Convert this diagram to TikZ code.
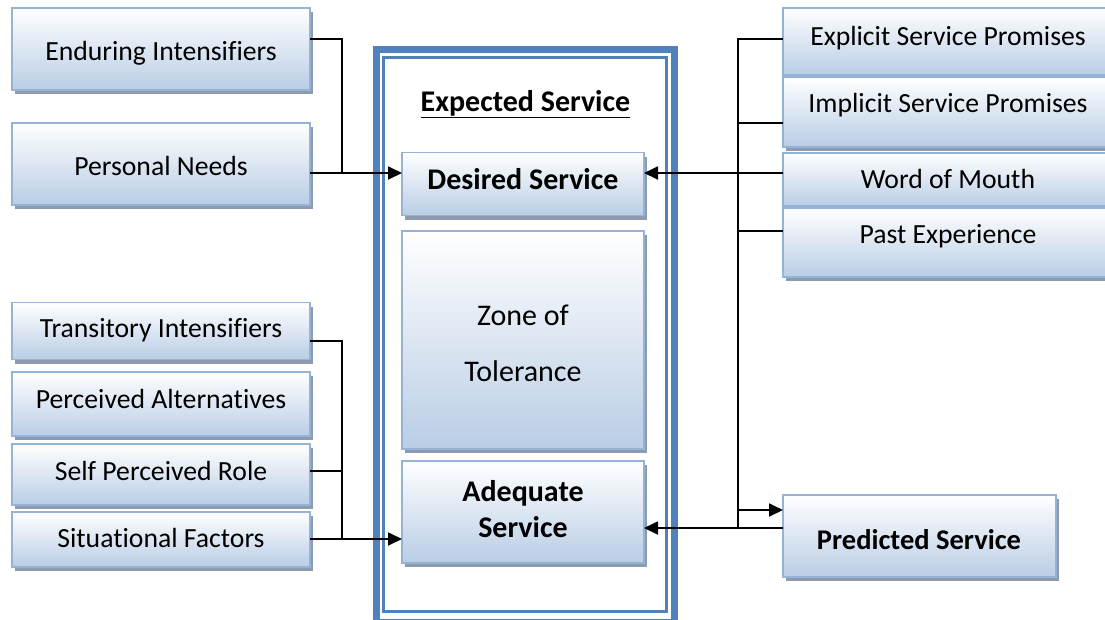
\documentclass[tikz,border=0pt]{standalone}
\usepackage{fontspec}
\setmainfont{Carlito}[RawFeature={-liga;-calt;-clig}]
\usetikzlibrary{arrows.meta,calc}
\definecolor{frameblue}{HTML}{4F81BD}
\definecolor{boxline}{HTML}{95B3D7}
\definecolor{boxbot}{HTML}{B9CDE5}
\definecolor{shadowgray}{HTML}{8E9BAE}
\tikzset{
  box/.style={draw=boxline, line width=1.5pt, top color=white, bottom color=boxbot,
    inner sep=0pt, outer sep=0pt,
    preaction={fill=shadowgray, transform canvas={shift={(3pt,-4pt)}}}},
  txt/.style={inner sep=0pt, anchor=base, font=\fontsize{27.7}{33}\selectfont},
  btxt/.style={inner sep=0pt, anchor=base, font=\fontsize{30}{36}\selectfont\bfseries},
  conn/.style={line width=1.8pt, black},
  arr/.style={conn, -{Triangle[length=14pt,width=13pt]}},
}
\begin{document}
\begin{tikzpicture}[x=1pt,y=-1pt]
\useasboundingbox (0,0) rectangle (1105,619);
\clip (0,0) rectangle (1105,619);
% central frame
\draw[frameblue, line width=7.5pt] (376.5,49.5) rectangle (674.5,623);
\draw[frameblue, line width=2.5pt] (383.5,57.5) rectangle (666.7,611.3);
\node[btxt] (exp) at (525.5,111) {\underline{Expected Service}};
% left column
\node[box, minimum width=298pt, minimum height=82pt] (ei) at (161,49) {};
\node[txt] (eit) at (161,60) {Enduring Intensifiers};
\node[box, minimum width=298pt, minimum height=82pt] (pn) at (161,164) {};
\node[txt] (pnt) at (161,175) {Personal Needs};
\node[box, minimum width=298pt, minimum height=57pt] (ti) at (161,331) {};
\node[txt] (tit) at (161,337) {Transitory Intensifiers};
\node[box, minimum width=298pt, minimum height=64pt] (pa) at (161,404) {};
\node[txt] (pat) at (161,408) {Perceived Alternatives};
\node[box, minimum width=298pt, minimum height=61pt] (spr) at (161,474.5) {};
\node[txt] (sprt) at (161,480) {Self Perceived Role};
\node[box, minimum width=298pt, minimum height=55pt] (sf) at (161,539.5) {};
\node[txt] (sft) at (161,547) {Situational Factors};
% centre boxes
\node[box, minimum width=242pt, minimum height=63pt] (ds) at (523,184) {};
\node[btxt] (dst) at (523,189) {Desired Service};
\node[box, minimum width=242pt, minimum height=218pt] (zt) at (523,340) {};
\node[txt, font=\fontsize{30}{36}\selectfont] (zt1) at (523,325) {Zone of};
\node[txt, font=\fontsize{30}{36}\selectfont] (zt2) at (523,381) {Tolerance};
\node[box, minimum width=242pt, minimum height=102pt] (asv) at (523,512) {};
\node[btxt] (as1) at (523,501) {Adequate};
\node[btxt] (as2) at (523,537) {Service};
% right column
\node[box, minimum width=330pt, minimum height=67pt] (ep) at (948,41.5) {};
\node[txt] (ept) at (948,45) {Explicit Service Promises};
\node[box, minimum width=330pt, minimum height=70pt] (ip) at (948,112) {};
\node[txt] (ipt) at (948,112) {Implicit Service Promises};
\node[box, minimum width=330pt, minimum height=53pt] (wom) at (948,179.5) {};
\node[txt] (womt) at (948,188) {Word of Mouth};
\node[box, minimum width=330pt, minimum height=69pt] (pe) at (948,242.5) {};
\node[txt] (pet) at (948,243) {Past Experience};
\node[box, minimum width=273pt, minimum height=82pt] (ps) at (919.5,536) {};
\node[btxt, font=\fontsize{28.5}{34}\selectfont\bfseries] (pst) at (919,549) {Predicted Service};
% left connectors
\coordinate (lt) at (342,39);
\coordinate (la) at (342,173);
\draw[conn] (ei.east |- lt) -- (lt) -- (la);
\draw[arr] (pn.east |- la) -- (ds.west |- la);
\coordinate (lb) at (342,341);
\coordinate (lc) at (342,471);
\coordinate (ld) at (342,539);
\draw[conn] (ti.east |- lb) -- (lb) -- (ld);
\draw[conn] (spr.east |- lc) -- (lc);
\draw[arr] (sf.east |- ld) -- (asv.west |- ld);
% right connectors
\coordinate (rt) at (738,39);
\coordinate (r2) at (738,123);
\coordinate (r3) at (738,173);
\coordinate (r4) at (738,231);
\coordinate (r5) at (738,510);
\coordinate (r6) at (738,528);
\draw[conn] (rt -| ep.west) -- (rt) -- (r6);
\draw[conn] (r2) -- (r2 -| ip.west);
\draw[arr] (r3 -| wom.west) -- (r3 -| ds.east);
\draw[conn] (r4) -- (r4 -| pe.west);
\draw[arr] (r5) -- (r5 -| ps.west);
\draw[arr] (r6 -| ps.west) -- (r6 -| asv.east);
\end{tikzpicture}
\end{document}
